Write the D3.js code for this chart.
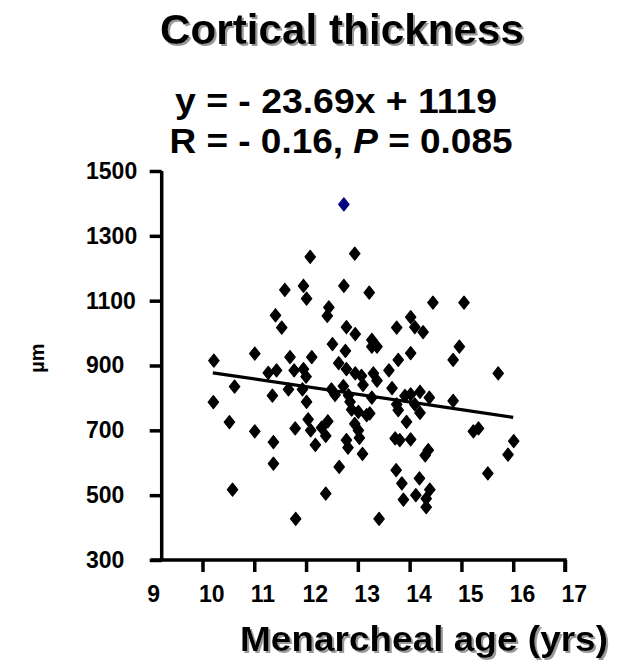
<!DOCTYPE html>
<html>
<head>
<meta charset="utf-8">
<script src="https://cdn.jsdelivr.net/npm/d3@7"></script>
<style>
  body { margin: 0; background: #fff; }
  text { font-family: "Liberation Sans", Arial, Helvetica, sans-serif; font-weight: bold; }
</style>
</head>
<body>
<div id="chart"></div>
<script>
// Menarcheal age (yrs) vs cortical thickness (µm)
const ages = [10.22, 10.21, 10.52, 10.62, 10.58, 11.01, 11.01, 11.27, 11.43, 11.35,
  11.37, 11.37, 11.41, 11.53, 11.59, 11.66, 11.69, 11.77, 11.79, 11.80,
  11.95, 11.93, 11.95, 12.00, 12.01, 12.01, 12.04, 12.09, 12.08, 12.11,
  12.18, 12.30, 12.42, 12.38, 12.38, 12.44, 12.41, 12.51, 12.49, 12.56,
  12.63, 12.64, 12.73, 12.76, 12.78, 12.72, 12.78, 12.82, 12.85, 12.88,
  12.78, 12.81, 12.94, 12.95, 12.95, 12.94, 13.01, 13.03, 13.07, 13.10,
  13.09, 13.01, 13.17, 13.23, 13.22, 13.27, 13.27, 13.37, 13.30, 13.37,
  13.27, 13.41, 13.60, 13.66, 13.75, 13.78, 13.75, 13.78, 13.72, 13.81,
  13.74, 13.85, 13.88, 13.91, 13.94, 14.02, 14.02, 14.10, 14.26, 14.02,
  14.02, 14.10, 14.20, 14.20, 14.19, 14.12, 14.38, 14.45, 14.36, 14.30,
  14.39, 14.32, 14.32, 14.84, 14.96, 15.05, 14.84, 15.23, 15.33, 15.51,
  15.71, 16.01, 15.90];
const thickness = [915, 787, 725, 835, 517, 937, 697, 877, 885, 807,
  664, 597, 1055, 1017, 1133, 826, 926, 885, 706, 427,
  1146, 826, 889, 866, 1106, 788, 734, 700, 1235, 926,
  655, 708, 728, 683, 505, 1079, 1053, 966, 826, 809,
  907, 587, 1146, 945, 1018, 836, 889, 808, 788, 764,
  670, 647, 1245, 997, 876, 720, 700, 677, 868, 840,
  627, 757, 747, 752, 1125, 979, 958, 958, 876, 853,
  801, 427, 885, 830, 1017, 917, 780, 762, 675, 670,
  577, 536, 486, 806, 726, 938, 1049, 1018, 1003, 811,
  672, 780, 754, 819, 552, 500, 801, 1094, 639, 623,
  517, 489, 463, 917, 958, 1094, 791, 697, 706, 567,
  876, 667, 625];

// highlighted point (blue)
const outlierAge = [12.73];
const outlierThickness = [1397];

// regression line from the equation shown
const slope = -23.69;
const intercept = 1119;
const fitAges = [10.2, 16];

const xTicks = [9, 10, 11, 12, 13, 14, 15, 16, 17];
const yTicks = [300, 500, 700, 900, 1100, 1300, 1500];

const W = 631, H = 667;
const svg = d3.select("#chart").append("svg")
  .attr("width", W)
  .attr("height", H);

// grey drop shadow for the big titles
svg.append("defs").append("filter")
  .attr("id", "shadow")
  .attr("x", "-5%").attr("y", "-20%").attr("width", "115%").attr("height", "150%")
  .append("feDropShadow")
  .attr("dx", 2).attr("dy", 2).attr("stdDeviation", 0.6)
  .attr("flood-color", "#999").attr("flood-opacity", 1);

const x = d3.scaleLinear().domain([9, 17]).range([150.7, 565]);
const y = d3.scaleLinear().domain([300, 1500]).range([560, 171]);
const yAxisX = 161.7;

function bigText(txt, cx, cy, size, len, shadow) {
  const t = svg.append("text")
    .attr("x", cx).attr("y", cy)
    .attr("text-anchor", "middle")
    .attr("font-size", size)
    .attr("textLength", len)
    .attr("lengthAdjust", "spacingAndGlyphs");
  if (shadow) t.attr("filter", "url(#shadow)");
  return t;
}

bigText("", 342, 44, 43, 364, true).text("Cortical thickness");
bigText("", 424, 651, 35, 368, true).text("Menarcheal age (yrs)");
bigText("", 336, 113, 35, 322, false).text("y = - 23.69x + 1119");

const rLine = bigText("", 341, 153, 35, 343, false);
rLine.append("tspan").text("R = - 0.16, ");
rLine.append("tspan").attr("font-style", "italic").text("P");
rLine.append("tspan").text(" = 0.085");

// y axis title
svg.append("text")
  .attr("transform", "translate(44,358) rotate(-90)")
  .attr("text-anchor", "middle")
  .attr("font-size", 20)
  .text("µm");

// axes
const xAxis = svg.append("g")
  .attr("transform", `translate(0,${y(300)})`)
  .call(d3.axisBottom(x).tickValues(xTicks).tickSize(12).tickPadding(14).tickFormat(d3.format("d")));
xAxis.selectAll(".tick line").filter(d => d === 9).remove();
xAxis.selectAll("text").attr("text-anchor", "start").attr("dx", -4).attr("font-size", 23).attr("fill", "#000");

const yAxis = svg.append("g")
  .attr("transform", `translate(${yAxisX},0)`)
  .call(d3.axisLeft(y).tickValues(yTicks).tickSize(12).tickFormat(d3.format("d")));
yAxis.selectAll("text").attr("text-anchor", "start").attr("x", 86 - yAxisX).attr("font-size", 23).attr("fill", "#000");

[xAxis, yAxis].forEach(g => {
  g.select(".domain").attr("stroke", "#000").attr("stroke-width", 3.5);
  g.selectAll(".tick line").attr("stroke", "#000").attr("stroke-width", 3.5);
});
xAxis.select(".domain").attr("d", `M${x(9)},0H${x(17)}V12`);
yAxis.select(".domain").attr("d", `M0,${y(1500)}V${y(300)}`);

// regression line
svg.append("path")
  .datum(fitAges)
  .attr("fill", "none")
  .attr("stroke", "#000")
  .attr("stroke-width", 3.2)
  .attr("d", d3.line().x(d => x(d)).y(d => y(slope * d + intercept)));

// diamonds
const diamond = "M0,-6.5L5.2,0L0,6.5L-5.2,0Z";
const pts = ages.map((a, i) => ({ a, t: thickness[i] }));
svg.append("g").selectAll("path")
  .data(pts)
  .enter()
  .append("path")
  .attr("d", diamond)
  .attr("transform", d => `translate(${x(d.a)},${y(d.t)})`)
  .attr("fill", "#000")
  .attr("stroke", "#000")
  .attr("stroke-width", 1.2)
  .attr("stroke-linejoin", "round");

svg.append("g").selectAll("path")
  .data(outlierAge.map((a, i) => ({ a, t: outlierThickness[i] })))
  .enter()
  .append("path")
  .attr("d", diamond)
  .attr("transform", d => `translate(${x(d.a)},${y(d.t)})`)
  .attr("fill", "#000080")
  .attr("stroke", "#000080")
  .attr("stroke-width", 1.2)
  .attr("stroke-linejoin", "round");
</script>
</body>
</html>
